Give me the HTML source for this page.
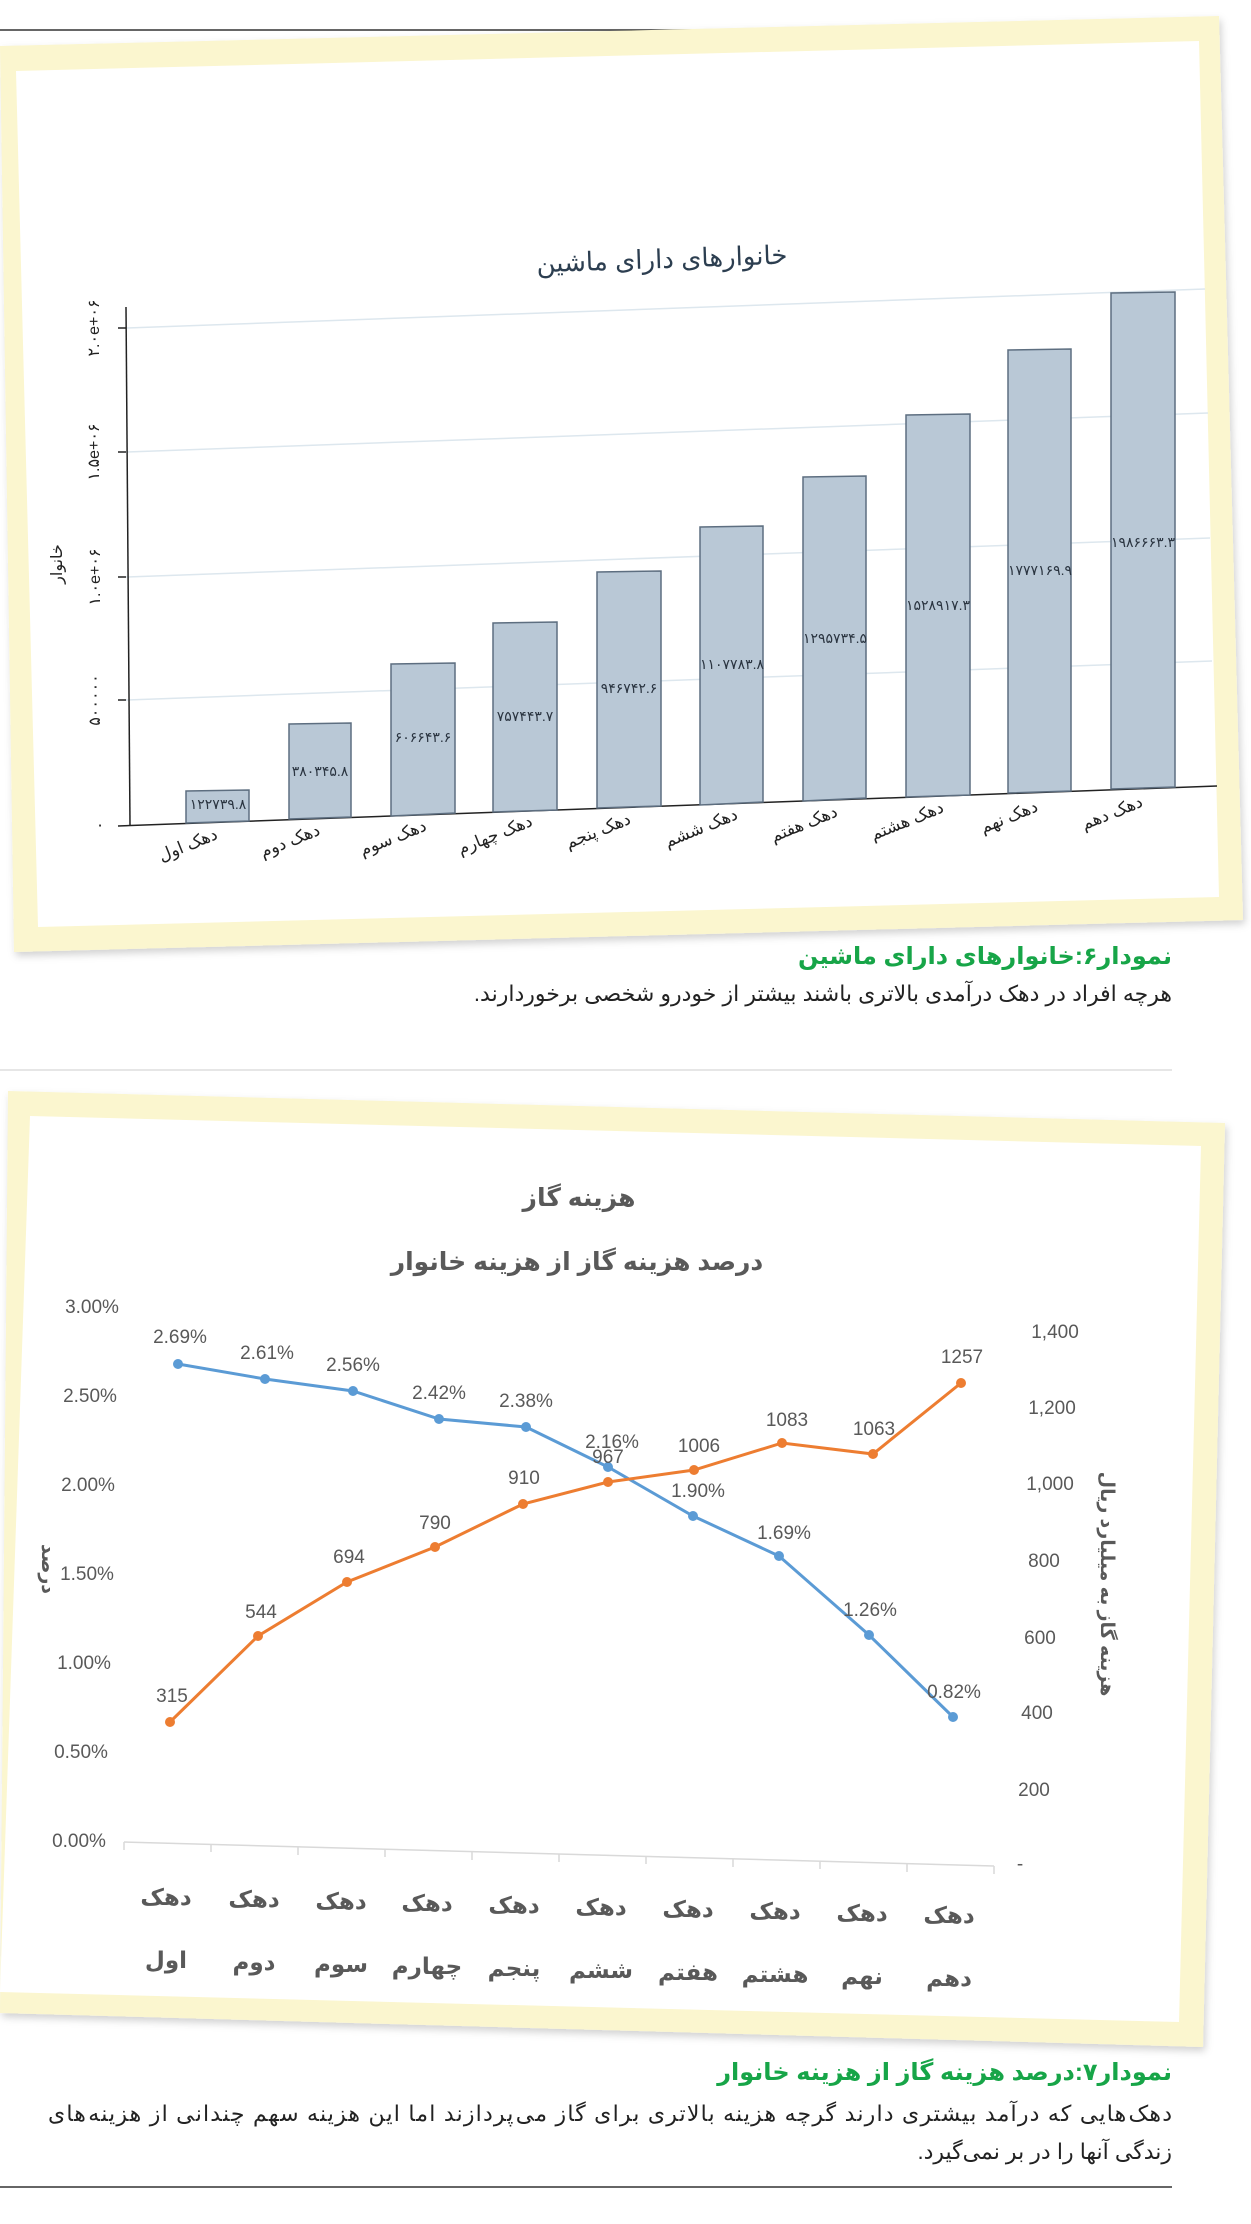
<!DOCTYPE html>
<html><head><meta charset="utf-8"><style>
html,body{margin:0;padding:0;background:#fff}
svg{display:block}
.fa{font-family:"Liberation Sans","Noto Sans CJK SC","DejaVu Sans",sans-serif}
</style></head><body>
<svg width="1251" height="2224" viewBox="0 0 1251 2224" xmlns="http://www.w3.org/2000/svg" class="fa">
<defs>
<filter id="sh" x="-5%" y="-5%" width="110%" height="110%"><feDropShadow dx="2" dy="4" stdDeviation="4" flood-color="#000" flood-opacity="0.18"/></filter>
</defs>
<line x1="0" y1="30" x2="760" y2="30" stroke="#333" stroke-width="1.5"/>

<polygon points="0,46 1219,16 1243,920 14,952" fill="#fbf6cf" filter="url(#sh)"/>
<polygon points="16,71 1199,41 1219,897 38,927" fill="#fff"/>
<text x="662" y="268" font-size="26" text-anchor="middle" fill="#2c3e50" transform="rotate(-2 662 261)">خانوارهای دارای ماشین</text>
<g stroke="#dde7ee" stroke-width="1.5">
<line x1="126" y1="328" x2="1205" y2="289"/>
<line x1="126" y1="452" x2="1208" y2="413"/>
<line x1="126" y1="577" x2="1210" y2="538"/>
<line x1="126" y1="700" x2="1212" y2="661"/>
</g>
<g stroke="#222" stroke-width="1.5">
<line x1="126" y1="307" x2="130" y2="825"/>
<line x1="118" y1="826" x2="1217" y2="786"/>
<line x1="118" y1="328" x2="126" y2="328"/>
<line x1="118" y1="452" x2="126" y2="452"/>
<line x1="118" y1="577" x2="126" y2="577"/>
<line x1="118" y1="700" x2="126" y2="700"/>
</g>
<g fill="#b9c8d6" stroke="#5d6e80" stroke-width="1.5">
<polygon points="186,791 249,790 249,821 186,823"/>
<polygon points="289,724 351,723 351,817 289,819"/>
<polygon points="391,664 455,663 455,813 391,816"/>
<polygon points="493,623 557,622 557,810 493,812"/>
<polygon points="597,572 661,571 661,806 597,808"/>
<polygon points="700,527 763,526 763,802 700,805"/>
<polygon points="803,477 866,476 866,798 803,801"/>
<polygon points="906,415 970,414 970,795 906,797"/>
<polygon points="1008,350 1071,349 1071,791 1008,793"/>
<polygon points="1111,293 1175,292 1175,787 1111,789"/>
</g>
<g font-size="14" fill="#2a3440" text-anchor="middle">
<text x="218" y="809">۱۲۲۷۳۹.۸</text>
<text x="320" y="776">۳۸۰۳۴۵.۸</text>
<text x="423" y="742">۶۰۶۶۴۳.۶</text>
<text x="525" y="721">۷۵۷۴۴۳.۷</text>
<text x="629" y="693">۹۴۶۷۴۲.۶</text>
<text x="732" y="669">۱۱۰۷۷۸۳.۸</text>
<text x="835" y="643">۱۲۹۵۷۳۴.۵</text>
<text x="938" y="610">۱۵۲۸۹۱۷.۳</text>
<text x="1040" y="575">۱۷۷۷۱۶۹.۹</text>
<text x="1143" y="547">۱۹۸۶۶۶۳.۳</text>
</g>
<g font-size="17" fill="#222" text-anchor="middle">
<text transform="translate(190,850) rotate(-22)">دهک اول</text>
<text transform="translate(292,846) rotate(-22)">دهک دوم</text>
<text transform="translate(395,843) rotate(-22)">دهک سوم</text>
<text transform="translate(497,840) rotate(-22)">دهک چهارم</text>
<text transform="translate(600,836) rotate(-22)">دهک پنجم</text>
<text transform="translate(703,833) rotate(-22)">دهک ششم</text>
<text transform="translate(806,829) rotate(-22)">دهک هفتم</text>
<text transform="translate(909,826) rotate(-22)">دهک هشتم</text>
<text transform="translate(1011,822) rotate(-22)">دهک نهم</text>
<text transform="translate(1114,818) rotate(-22)">دهک دهم</text>
</g>
<g font-size="16" fill="#222" text-anchor="middle">
<text transform="translate(99,328) rotate(-90)">۲.۰e+۰۶</text>
<text transform="translate(99,452) rotate(-90)">۱.۵e+۰۶</text>
<text transform="translate(100,577) rotate(-90)">۱.۰e+۰۶</text>
<text transform="translate(100,700) rotate(-90)">۵۰۰۰۰۰</text>
<text x="100" y="830">۰</text>
<text transform="translate(62,564) rotate(-90)">خانوار</text>
</g>
<text x="1172" y="964" font-size="24" font-weight="bold" fill="#17a548" text-anchor="start" direction="rtl">نمودار۶:خانوارهای دارای ماشین</text>
<text x="1172" y="1001" font-size="22" fill="#222" text-anchor="start" direction="rtl">هرچه افراد در دهک درآمدی بالاتری باشند بیشتر از خودرو شخصی برخوردارند.</text>
<line x1="0" y1="1070" x2="1172" y2="1070" stroke="#ccc" stroke-width="1"/>

<polygon points="8,1091 1225,1123 1203,2047 0,2013" fill="#fbf6cf" filter="url(#sh)"/>
<polygon points="30,1116 1201,1146 1179,2022 0,1992" fill="#fff"/>
<g fill="#595959" font-weight="bold" text-anchor="middle">
<text x="579" y="1206" font-size="25">هزینه گاز</text>
<text x="577" y="1270" font-size="25">درصد هزینه گاز از هزینه خانوار</text>
</g>
<g font-size="19" fill="#595959" text-anchor="middle">
<text x="92" y="1313">3.00%</text>
<text x="90" y="1402">2.50%</text>
<text x="88" y="1491">2.00%</text>
<text x="87" y="1580">1.50%</text>
<text x="84" y="1669">1.00%</text>
<text x="81" y="1758">0.50%</text>
<text x="79" y="1847">0.00%</text>
<text x="1055" y="1338">1,400</text>
<text x="1052" y="1414">1,200</text>
<text x="1050" y="1490">1,000</text>
<text x="1044" y="1567">800</text>
<text x="1040" y="1644">600</text>
<text x="1037" y="1719">400</text>
<text x="1034" y="1796">200</text>
<text x="1020" y="1870">-</text>
<text transform="translate(42,1569) rotate(90)" font-weight="bold">درصد</text>
<text transform="translate(1101,1584) rotate(90)" font-weight="bold">هزینه گاز به میلیارد ریال</text>
</g>
<line x1="124" y1="1842" x2="994" y2="1866" stroke="#d9d9d9" stroke-width="1.5"/>
<g stroke="#d9d9d9" stroke-width="1.5">
<line x1="124" y1="1842" x2="124" y2="1850"/><line x1="211" y1="1844" x2="211" y2="1852"/><line x1="298" y1="1847" x2="298" y2="1855"/><line x1="385" y1="1849" x2="385" y2="1857"/><line x1="472" y1="1852" x2="472" y2="1860"/><line x1="559" y1="1854" x2="559" y2="1862"/><line x1="646" y1="1856" x2="646" y2="1864"/><line x1="733" y1="1859" x2="733" y2="1867"/><line x1="820" y1="1861" x2="820" y2="1869"/><line x1="907" y1="1864" x2="907" y2="1872"/><line x1="994" y1="1866" x2="994" y2="1874"/>
</g>
<polyline fill="none" stroke="#5b9bd5" stroke-width="3" points="178,1364 265,1379 353,1391 439,1419 526,1427 608,1467 693,1516 779,1556 869,1635 953,1717"/>
<g fill="#5b9bd5"><circle cx="178" cy="1364" r="5"/><circle cx="265" cy="1379" r="5"/><circle cx="353" cy="1391" r="5"/><circle cx="439" cy="1419" r="5"/><circle cx="526" cy="1427" r="5"/><circle cx="608" cy="1467" r="5"/><circle cx="693" cy="1516" r="5"/><circle cx="779" cy="1556" r="5"/><circle cx="869" cy="1635" r="5"/><circle cx="953" cy="1717" r="5"/></g>
<polyline fill="none" stroke="#ed7d31" stroke-width="3" points="170,1722 258,1636 347,1582 435,1547 523,1504 608,1482 694,1470 782,1443 873,1454 961,1383"/>
<g fill="#ed7d31"><circle cx="170" cy="1722" r="5"/><circle cx="258" cy="1636" r="5"/><circle cx="347" cy="1582" r="5"/><circle cx="435" cy="1547" r="5"/><circle cx="523" cy="1504" r="5"/><circle cx="608" cy="1482" r="5"/><circle cx="694" cy="1470" r="5"/><circle cx="782" cy="1443" r="5"/><circle cx="873" cy="1454" r="5"/><circle cx="961" cy="1383" r="5"/></g>
<g font-size="19" fill="#595959" text-anchor="middle">
<text x="180" y="1343">2.69%</text><text x="267" y="1359">2.61%</text><text x="353" y="1371">2.56%</text><text x="439" y="1399">2.42%</text><text x="526" y="1407">2.38%</text><text x="612" y="1448">2.16%</text><text x="698" y="1497">1.90%</text><text x="784" y="1539">1.69%</text><text x="870" y="1616">1.26%</text><text x="954" y="1698">0.82%</text>
<text x="172" y="1702">315</text><text x="261" y="1618">544</text><text x="349" y="1563">694</text><text x="435" y="1529">790</text><text x="524" y="1484">910</text><text x="608" y="1463">967</text><text x="699" y="1452">1006</text><text x="787" y="1426">1083</text><text x="874" y="1435">1063</text><text x="962" y="1363">1257</text>
</g>
<g font-size="23" font-weight="bold" fill="#595959" text-anchor="middle">
<text x="166" y="1905">دهک</text><text x="254" y="1907">دهک</text><text x="341" y="1909">دهک</text><text x="427" y="1911">دهک</text><text x="514" y="1913">دهک</text><text x="601" y="1915">دهک</text><text x="688" y="1917">دهک</text><text x="775" y="1919">دهک</text><text x="862" y="1921">دهک</text><text x="949" y="1923">دهک</text>
<text x="166" y="1968">اول</text><text x="254" y="1970">دوم</text><text x="341" y="1972">سوم</text><text x="427" y="1974">چهارم</text><text x="514" y="1976">پنجم</text><text x="601" y="1978">ششم</text><text x="688" y="1980">هفتم</text><text x="775" y="1982">هشتم</text><text x="862" y="1984">نهم</text><text x="949" y="1986">دهم</text>
</g>
<text x="1172" y="2080" font-size="24" font-weight="bold" fill="#17a548" text-anchor="start" direction="rtl">نمودار۷:درصد هزینه گاز از هزینه خانوار</text>
<text x="1172" y="2121" font-size="22" fill="#222" text-anchor="start" direction="rtl" textLength="1124" lengthAdjust="spacing">دهک‌هایی که درآمد بیشتری دارند گرچه هزینه بالاتری برای گاز می‌پردازند اما این هزینه سهم چندانی از هزینه‌های</text>
<text x="1172" y="2159" font-size="22" fill="#222" text-anchor="start" direction="rtl">زندگی آنها را در بر نمی‌گیرد.</text>
<line x1="0" y1="2187" x2="1172" y2="2187" stroke="#333" stroke-width="1.5"/>
</svg>
</body></html>
